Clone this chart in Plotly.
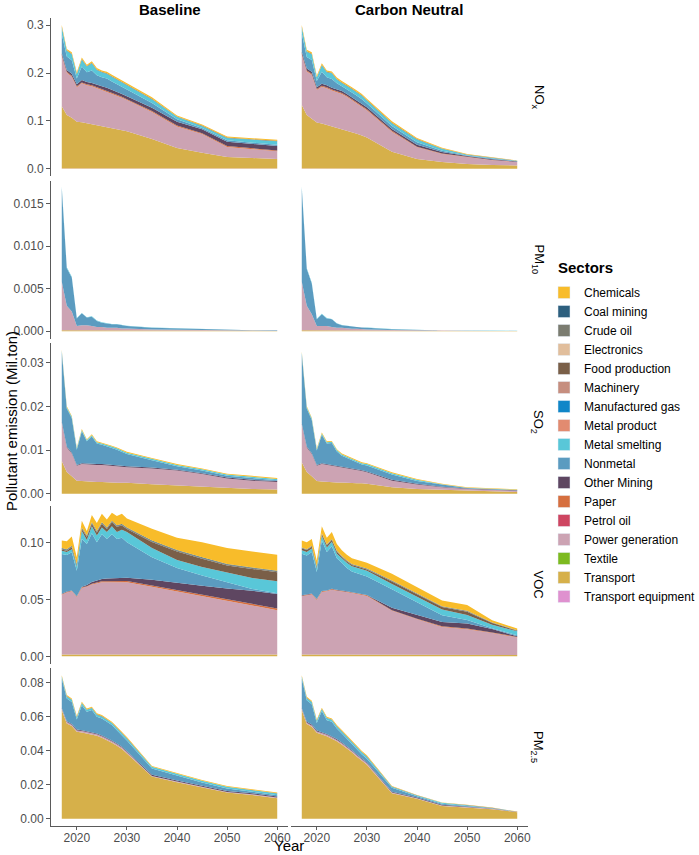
import plotly.graph_objects as go

# years drawn in every panel
YEARS = [2017, 2018, 2019, 2020, 2021, 2022, 2023, 2024, 2025, 2026, 2027, 2028, 2029, 2030,
         2035, 2040, 2045, 2050, 2055, 2060]

SECTORS = ["Chemicals", "Coal mining", "Crude oil", "Electronics", "Food production",
           "Machinery", "Manufactured gas", "Metal product", "Metal smelting", "Nonmetal",
           "Other Mining", "Paper", "Petrol oil", "Power generation", "Textile",
           "Transport", "Transport equipment"]

COLORS = ["#F8BC2A", "#2D5F7E", "#7B7C70", "#E1BE9C", "#7A5F48",
          "#C68E7F", "#1086C8", "#E28B70", "#59C7D8", "#5B9BC0",
          "#5E4661", "#D66F3F", "#CE4561", "#CCA3B3", "#7DBA20",
          "#D6B04A", "#DF91CF"]

POLLUTANTS = ["NO<sub>x</sub>", "PM<sub>10</sub>", "SO<sub>2</sub>", "VOC", "PM<sub>2.5</sub>"]
SCENARIOS = ["Baseline", "Carbon Neutral"]

# Mil.ton, one list per sector (sectors not listed are zero)
NOX_BASE = {
    "Transport equipment": [0.0005, 0.0005, 0.0005, 0.0005, 0.0005, 0.0005, 0.0005, 0.0005, 0.0005, 0.0005, 0.0005, 0.0005, 0.0005, 0.0005, 0.0005, 0.0005, 0.0005, 0.0005, 0.0005, 0.0005],
    "Transport": [0.130, 0.112, 0.106, 0.098, 0.097, 0.095, 0.093, 0.091, 0.089, 0.087, 0.085, 0.083, 0.080, 0.078, 0.062, 0.043, 0.033, 0.024, 0.022, 0.020],
    "Power generation": [0.105, 0.088, 0.086, 0.072, 0.081, 0.079, 0.079, 0.077, 0.076, 0.074, 0.072, 0.069, 0.068, 0.065, 0.056, 0.045, 0.039, 0.021, 0.018, 0.016],
    "Paper": [0.002, 0.002, 0.002, 0.002, 0.002, 0.002, 0.002, 0.002, 0.002, 0.002, 0.002, 0.002, 0.002, 0.002, 0.002, 0.002, 0.002, 0.002, 0.002, 0.002],
    "Other Mining": [0.004, 0.004, 0.004, 0.004, 0.005, 0.005, 0.005, 0.005, 0.005, 0.006, 0.006, 0.006, 0.006, 0.006, 0.007, 0.008, 0.008, 0.009, 0.009, 0.009],
    "Nonmetal": [0.040, 0.028, 0.028, 0.012, 0.028, 0.020, 0.026, 0.020, 0.019, 0.019, 0.017, 0.016, 0.015, 0.014, 0.010, 0.005, 0.003, 0.003, 0.003, 0.003],
    "Metal smelting": [0.014, 0.012, 0.013, 0.009, 0.015, 0.012, 0.015, 0.011, 0.010, 0.010, 0.010, 0.010, 0.009, 0.009, 0.008, 0.005, 0.004, 0.005, 0.006, 0.007],
    "Food production": [0.001, 0.001, 0.001, 0.001, 0.001, 0.001, 0.001, 0.001, 0.001, 0.001, 0.001, 0.001, 0.001, 0.001, 0.001, 0.001, 0.001, 0.001, 0.001, 0.001],
    "Chemicals": [0.004, 0.003, 0.003, 0.003, 0.003, 0.003, 0.003, 0.003, 0.003, 0.003, 0.003, 0.003, 0.003, 0.003, 0.003, 0.002, 0.002, 0.002, 0.002, 0.002],
}
NOX_CN = {
    "Transport equipment": [0.0005, 0.0005, 0.0005, 0.0005, 0.0005, 0.0005, 0.0005, 0.0005, 0.0005, 0.0005, 0.0005, 0.0005, 0.0005, 0.0005, 0.0004, 0.0003, 0.0002, 0.0002, 0.0001, 0.0001],
    "Transport": [0.133, 0.112, 0.104, 0.096, 0.094, 0.091, 0.088, 0.085, 0.083, 0.080, 0.076, 0.073, 0.069, 0.065, 0.035, 0.020, 0.014, 0.010, 0.008, 0.007],
    "Power generation": [0.105, 0.091, 0.092, 0.068, 0.077, 0.077, 0.075, 0.075, 0.073, 0.070, 0.067, 0.063, 0.060, 0.057, 0.042, 0.025, 0.017, 0.014, 0.010, 0.007],
    "Paper": [0.002, 0.002, 0.002, 0.002, 0.002, 0.002, 0.002, 0.002, 0.002, 0.002, 0.002, 0.002, 0.002, 0.002, 0.002, 0.001, 0.001, 0.0005, 0.0005, 0.0003],
    "Other Mining": [0.004, 0.004, 0.004, 0.004, 0.004, 0.004, 0.004, 0.004, 0.004, 0.004, 0.004, 0.004, 0.004, 0.004, 0.004, 0.004, 0.003, 0.002, 0.0015, 0.001],
    "Nonmetal": [0.038, 0.024, 0.025, 0.013, 0.025, 0.017, 0.018, 0.012, 0.010, 0.010, 0.010, 0.010, 0.010, 0.008, 0.006, 0.005, 0.0025, 0.001, 0.001, 0.0005],
    "Metal smelting": [0.013, 0.011, 0.012, 0.007, 0.014, 0.010, 0.012, 0.008, 0.007, 0.007, 0.007, 0.007, 0.007, 0.006, 0.006, 0.006, 0.004, 0.0015, 0.0012, 0.0008],
    "Food production": [0.001, 0.001, 0.001, 0.001, 0.001, 0.001, 0.001, 0.001, 0.001, 0.001, 0.001, 0.001, 0.001, 0.001, 0.001, 0.001, 0.0005, 0.0005, 0.0003, 0.0002],
    "Chemicals": [0.004, 0.003, 0.003, 0.003, 0.003, 0.003, 0.003, 0.003, 0.003, 0.003, 0.003, 0.003, 0.003, 0.003, 0.003, 0.002, 0.002, 0.001, 0.001, 0.0005],
}

PM10_BASE = {
    "Transport": [0.0001, 0.0001, 0.0001, 0.0001, 0.0001, 0.0001, 0.0001, 0.0001, 0.0001, 0.0001, 0.0001, 0.0001, 0.0001, 0.0001, 0.00008, 0.00006, 0.00005, 0.00004, 0.00003, 0.00003],
    "Power generation": [0.0057, 0.0029, 0.0022, 0.0005, 0.0006, 0.0006, 0.0005, 0.0004, 0.0004, 0.0003, 0.0003, 0.0003, 0.0002, 0.0002, 0.00012, 0.0001, 0.00006, 0.00005, 0.00004, 0.00003],
    "Nonmetal": [0.0110, 0.0044, 0.0040, 0.0009, 0.0014, 0.0009, 0.0011, 0.0007, 0.0005, 0.0005, 0.0004, 0.0004, 0.0004, 0.0003, 0.0002, 0.00015, 0.0001, 0.00007, 0.00004, 0.00004],
    "Metal smelting": [0.0002, 0.0001, 0.0001, 0.00005, 0.00005, 0.00005, 0.00005, 0.00004, 0.00004, 0.00004, 0.00003, 0.00003, 0.00003, 0.00003, 0.00002, 0.00002, 0.00002, 0.00001, 0.00001, 0.00001],
}
PM10_CN = {
    "Transport": [0.0001, 0.0001, 0.0001, 0.0001, 0.0001, 0.0001, 0.0001, 0.0001, 0.0001, 0.0001, 0.00008, 0.00008, 0.00007, 0.00006, 0.00004, 0.00003, 0.00002, 0.00002, 0.00001, 0.00001],
    "Power generation": [0.0057, 0.0029, 0.0019, 0.0005, 0.0005, 0.0005, 0.0004, 0.0003, 0.0003, 0.0002, 0.0002, 0.0002, 0.00015, 0.00015, 0.0001, 0.00005, 0.00003, 0.00002, 0.00002, 0.00001],
    "Nonmetal": [0.0110, 0.0043, 0.0036, 0.0008, 0.0014, 0.0009, 0.0009, 0.0005, 0.0003, 0.0003, 0.0003, 0.0002, 0.0002, 0.0002, 0.0001, 0.00005, 0.00003, 0.00002, 0.00001, 0.00001],
    "Metal smelting": [0.0002, 0.0001, 0.0001, 0.00005, 0.00005, 0.00005, 0.00004, 0.00004, 0.00003, 0.00003, 0.00003, 0.00002, 0.00002, 0.00002, 0.00001, 0.00001, 0.00001, 0.00001, 0.00001, 0.00001],
}

SO2_BASE = {
    "Transport": [0.0075, 0.0050, 0.0040, 0.0030, 0.0029, 0.0028, 0.0028, 0.0027, 0.0027, 0.0026, 0.0026, 0.0025, 0.0025, 0.0025, 0.0022, 0.0019, 0.0016, 0.0013, 0.0011, 0.0010],
    "Power generation": [0.0088, 0.0056, 0.0052, 0.0034, 0.0039, 0.0039, 0.0039, 0.0039, 0.0039, 0.0039, 0.0038, 0.0038, 0.0037, 0.0036, 0.0036, 0.0034, 0.0029, 0.0022, 0.0019, 0.0017],
    "Other Mining": [0.0002, 0.0002, 0.0002, 0.0002, 0.0002, 0.0002, 0.0002, 0.0002, 0.0002, 0.0002, 0.0002, 0.0002, 0.0002, 0.0002, 0.0002, 0.0002, 0.0002, 0.0002, 0.0002, 0.0002],
    "Nonmetal": [0.0160, 0.0087, 0.0079, 0.0035, 0.0073, 0.0051, 0.0062, 0.0047, 0.0044, 0.0042, 0.0039, 0.0036, 0.0032, 0.0028, 0.0017, 0.0008, 0.0006, 0.0004, 0.0004, 0.0002],
    "Metal smelting": [0.0003, 0.0003, 0.0003, 0.0003, 0.0003, 0.0003, 0.0003, 0.0003, 0.0003, 0.0003, 0.0003, 0.0003, 0.0003, 0.0003, 0.0003, 0.0003, 0.0003, 0.0003, 0.0003, 0.0003],
    "Chemicals": [0.0002, 0.0002, 0.0002, 0.0002, 0.0002, 0.0002, 0.0002, 0.0002, 0.0002, 0.0002, 0.0002, 0.0002, 0.0002, 0.0002, 0.0002, 0.0002, 0.0002, 0.0002, 0.0002, 0.0002],
}
SO2_CN = {
    "Transport": [0.0072, 0.0050, 0.0040, 0.0029, 0.0028, 0.0027, 0.0027, 0.0026, 0.0026, 0.0025, 0.0025, 0.0024, 0.0024, 0.0023, 0.0015, 0.0011, 0.0009, 0.0008, 0.0006, 0.0004],
    "Power generation": [0.0087, 0.0056, 0.0051, 0.0035, 0.0040, 0.0039, 0.0038, 0.0037, 0.0035, 0.0034, 0.0032, 0.0031, 0.0028, 0.0026, 0.0015, 0.0010, 0.0006, 0.0003, 0.0003, 0.0003],
    "Other Mining": [0.0002, 0.0002, 0.0002, 0.0002, 0.0002, 0.0002, 0.0002, 0.0002, 0.0002, 0.0002, 0.0002, 0.0002, 0.0002, 0.0002, 0.0002, 0.0002, 0.0001, 0.0001, 0.0001, 0.0001],
    "Nonmetal": [0.0160, 0.0087, 0.0076, 0.0033, 0.0065, 0.0047, 0.0049, 0.0032, 0.0024, 0.0021, 0.0018, 0.0015, 0.0013, 0.0014, 0.0012, 0.0006, 0.0005, 0.0001, 0.00005, 0.00002],
    "Metal smelting": [0.0003, 0.0003, 0.0003, 0.0003, 0.0003, 0.0003, 0.0003, 0.0003, 0.0003, 0.0003, 0.0003, 0.0003, 0.0003, 0.0003, 0.0003, 0.0003, 0.0001, 0.0001, 0.0001, 0.0001],
    "Chemicals": [0.0002, 0.0002, 0.0002, 0.0002, 0.0002, 0.0002, 0.0002, 0.0002, 0.0002, 0.0002, 0.0002, 0.0002, 0.0002, 0.0002, 0.0002, 0.0002, 0.0001, 0.0001, 0.0001, 0.0001],
}

VOC_BASE = {
    "Transport": [0.0016, 0.0016, 0.0016, 0.0016, 0.0016, 0.0016, 0.0016, 0.0016, 0.0016, 0.0016, 0.0016, 0.0016, 0.0016, 0.0016, 0.0016, 0.0016, 0.0016, 0.0016, 0.0016, 0.0016],
    "Power generation": [0.0524, 0.0544, 0.0554, 0.0504, 0.0584, 0.0594, 0.0614, 0.0624, 0.0634, 0.0634, 0.0634, 0.0634, 0.0634, 0.0634, 0.0594, 0.0554, 0.0514, 0.0474, 0.0434, 0.0389],
    "Paper": [0.0005, 0.0005, 0.0005, 0.0005, 0.0005, 0.0005, 0.0006, 0.0007, 0.0008, 0.0008, 0.0009, 0.0009, 0.0010, 0.0010, 0.0011, 0.0012, 0.0013, 0.0014, 0.0015, 0.0015],
    "Other Mining": [0.0003, 0.0003, 0.0003, 0.0003, 0.0005, 0.0010, 0.0015, 0.0020, 0.0020, 0.0025, 0.0025, 0.0030, 0.0030, 0.0030, 0.0050, 0.0060, 0.0075, 0.0090, 0.0110, 0.0127],
    "Nonmetal": [0.0350, 0.0321, 0.0334, 0.0223, 0.0420, 0.0360, 0.0429, 0.0333, 0.0392, 0.0347, 0.0386, 0.0341, 0.0350, 0.0310, 0.0197, 0.0133, 0.0090, 0.0056, 0.0016, 0.0006],
    "Metal smelting": [0.0029, 0.0026, 0.0028, 0.0036, 0.0070, 0.0035, 0.0060, 0.0060, 0.0060, 0.0060, 0.0070, 0.0060, 0.0070, 0.0090, 0.0082, 0.0070, 0.0075, 0.0085, 0.0095, 0.0105],
    "Food production": [0.0010, 0.0012, 0.0017, 0.0010, 0.0017, 0.0027, 0.0022, 0.0027, 0.0032, 0.0027, 0.0037, 0.0047, 0.0037, 0.0027, 0.0052, 0.0075, 0.0072, 0.0062, 0.0081, 0.0080],
    "Crude oil": [0.0008, 0.0008, 0.0008, 0.0008, 0.0008, 0.0008, 0.0008, 0.0008, 0.0008, 0.0008, 0.0008, 0.0008, 0.0008, 0.0008, 0.0008, 0.0008, 0.0008, 0.0008, 0.0008, 0.0008],
    "Coal mining": [0.0005, 0.0005, 0.0005, 0.0005, 0.0005, 0.0005, 0.0005, 0.0005, 0.0005, 0.0005, 0.0005, 0.0005, 0.0005, 0.0005, 0.0005, 0.0005, 0.0005, 0.0005, 0.0005, 0.0005],
    "Chemicals": [0.0065, 0.0070, 0.0080, 0.0060, 0.0060, 0.0040, 0.0065, 0.0070, 0.0075, 0.0070, 0.0070, 0.0080, 0.0090, 0.0080, 0.0105, 0.0107, 0.0132, 0.0140, 0.0140, 0.0139],
}
VOC_CN = {
    "Transport": [0.0016, 0.0016, 0.0016, 0.0016, 0.0016, 0.0016, 0.0016, 0.0016, 0.0016, 0.0016, 0.0016, 0.0016, 0.0016, 0.0016, 0.0016, 0.0016, 0.0016, 0.0015, 0.0014, 0.0012],
    "Power generation": [0.0511, 0.0519, 0.0526, 0.0479, 0.0549, 0.0554, 0.0569, 0.0559, 0.0555, 0.0546, 0.0539, 0.0532, 0.0524, 0.0514, 0.0383, 0.0309, 0.0242, 0.0223, 0.0191, 0.0153],
    "Paper": [0.0005, 0.0005, 0.0005, 0.0005, 0.0005, 0.0005, 0.0005, 0.0005, 0.0005, 0.0005, 0.0005, 0.0005, 0.0005, 0.0005, 0.0005, 0.0005, 0.0005, 0.0005, 0.0005, 0.0005],
    "Other Mining": [0.0003, 0.0003, 0.0003, 0.0003, 0.0003, 0.0003, 0.0003, 0.0003, 0.0003, 0.0003, 0.0003, 0.0003, 0.0003, 0.0003, 0.0023, 0.0033, 0.0037, 0.0044, 0.0030, 0.0005],
    "Nonmetal": [0.0365, 0.0342, 0.0365, 0.0237, 0.0442, 0.0337, 0.0372, 0.0277, 0.0241, 0.0205, 0.0182, 0.0174, 0.0162, 0.0162, 0.0161, 0.0113, 0.0060, 0.0032, 0.0006, 0.0009],
    "Metal smelting": [0.0030, 0.0030, 0.0030, 0.0030, 0.0040, 0.0040, 0.0040, 0.0040, 0.0040, 0.0045, 0.0045, 0.0045, 0.0050, 0.0050, 0.0047, 0.0044, 0.0050, 0.0044, 0.0030, 0.0035],
    "Food production": [0.0017, 0.0017, 0.0017, 0.0012, 0.0017, 0.0017, 0.0017, 0.0017, 0.0012, 0.0012, 0.0012, 0.0012, 0.0012, 0.0012, 0.0022, 0.0022, 0.0022, 0.0029, 0.0016, 0.0005],
    "Crude oil": [0.0005, 0.0005, 0.0005, 0.0005, 0.0005, 0.0005, 0.0005, 0.0005, 0.0005, 0.0005, 0.0005, 0.0005, 0.0005, 0.0005, 0.0005, 0.0005, 0.0005, 0.0005, 0.0002, 0.0002],
    "Coal mining": [0.0003, 0.0003, 0.0003, 0.0003, 0.0003, 0.0003, 0.0003, 0.0003, 0.0003, 0.0003, 0.0003, 0.0003, 0.0003, 0.0003, 0.0003, 0.0003, 0.0003, 0.0003, 0.0002, 0.0002],
    "Chemicals": [0.0060, 0.0060, 0.0060, 0.0050, 0.0060, 0.0060, 0.0060, 0.0060, 0.0050, 0.0050, 0.0050, 0.0050, 0.0050, 0.0050, 0.0060, 0.0060, 0.0050, 0.0050, 0.0020, 0.0015],
}

PM25_BASE = {
    "Transport": [0.0638, 0.0560, 0.0544, 0.0511, 0.0507, 0.0500, 0.0496, 0.0488, 0.0476, 0.0462, 0.0447, 0.0429, 0.0410, 0.0384, 0.0248, 0.0215, 0.0185, 0.0154, 0.0140, 0.0121],
    "Power generation": [0.0008, 0.0008, 0.0008, 0.0008, 0.0008, 0.0008, 0.0008, 0.0008, 0.0008, 0.0008, 0.0008, 0.0008, 0.0008, 0.0008, 0.0004, 0.0004, 0.0004, 0.0004, 0.0004, 0.0004],
    "Other Mining": [0.0005, 0.0005, 0.0005, 0.0005, 0.0005, 0.0005, 0.0005, 0.0005, 0.0005, 0.0005, 0.0005, 0.0005, 0.0005, 0.0005, 0.0006, 0.0006, 0.0006, 0.0006, 0.0006, 0.0006],
    "Nonmetal": [0.0172, 0.0133, 0.0129, 0.0059, 0.0147, 0.0115, 0.0129, 0.0098, 0.0100, 0.0095, 0.0090, 0.0078, 0.0067, 0.0063, 0.0037, 0.0027, 0.0018, 0.0014, 0.0009, 0.0008],
    "Metal smelting": [0.0012, 0.0012, 0.0012, 0.0012, 0.0012, 0.0012, 0.0012, 0.0012, 0.0012, 0.0012, 0.0012, 0.0012, 0.0012, 0.0012, 0.0010, 0.0010, 0.0010, 0.0010, 0.0010, 0.0010],
    "Food production": [0.0002, 0.0002, 0.0002, 0.0002, 0.0002, 0.0002, 0.0002, 0.0002, 0.0002, 0.0002, 0.0002, 0.0002, 0.0002, 0.0002, 0.0001, 0.0001, 0.0001, 0.0001, 0.0001, 0.0001],
    "Chemicals": [0.0006, 0.0006, 0.0006, 0.0006, 0.0006, 0.0006, 0.0006, 0.0006, 0.0006, 0.0006, 0.0006, 0.0006, 0.0006, 0.0006, 0.0004, 0.0004, 0.0004, 0.0004, 0.0004, 0.0004],
}
PM25_CN = {
    "Transport": [0.0638, 0.0556, 0.0540, 0.0505, 0.0495, 0.0485, 0.0470, 0.0455, 0.0435, 0.0415, 0.0390, 0.0365, 0.0340, 0.0318, 0.0150, 0.0118, 0.0076, 0.0066, 0.0057, 0.0039],
    "Power generation": [0.0008, 0.0008, 0.0008, 0.0008, 0.0008, 0.0008, 0.0008, 0.0008, 0.0008, 0.0008, 0.0008, 0.0008, 0.0008, 0.0008, 0.0004, 0.0003, 0.0003, 0.0002, 0.0002, 0.0001],
    "Other Mining": [0.0005, 0.0005, 0.0005, 0.0005, 0.0005, 0.0005, 0.0005, 0.0005, 0.0005, 0.0005, 0.0005, 0.0005, 0.0005, 0.0005, 0.0005, 0.0004, 0.0003, 0.0003, 0.0002, 0.0001],
    "Nonmetal": [0.0172, 0.0127, 0.0120, 0.0045, 0.0124, 0.0081, 0.0086, 0.0062, 0.0053, 0.0042, 0.0035, 0.0030, 0.0025, 0.0022, 0.0024, 0.0007, 0.0007, 0.0005, 0.0001, 0.0000],
    "Metal smelting": [0.0012, 0.0012, 0.0012, 0.0012, 0.0012, 0.0012, 0.0012, 0.0012, 0.0012, 0.0012, 0.0012, 0.0012, 0.0012, 0.0012, 0.0006, 0.0005, 0.0005, 0.0004, 0.0002, 0.0001],
    "Food production": [0.0002, 0.0002, 0.0002, 0.0002, 0.0002, 0.0002, 0.0002, 0.0002, 0.0002, 0.0002, 0.0002, 0.0002, 0.0002, 0.0002, 0.0001, 0.0001, 0.0001, 0.0001, 0.0001, 0.0000],
    "Chemicals": [0.0006, 0.0006, 0.0006, 0.0006, 0.0006, 0.0006, 0.0006, 0.0006, 0.0006, 0.0006, 0.0006, 0.0006, 0.0006, 0.0006, 0.0003, 0.0002, 0.0001, 0.0001, 0.0001, 0.0001],
}

PANELS = [[NOX_BASE, NOX_CN], [PM10_BASE, PM10_CN], [SO2_BASE, SO2_CN],
          [VOC_BASE, VOC_CN], [PM25_BASE, PM25_CN]]

Y_RANGES = [[-0.015, 0.315], [-0.00086, 0.0177], [-0.00165, 0.0345],
            [-0.0063, 0.1323], [-0.0042, 0.0885]]
Y_TICKS = [[0.0, 0.1, 0.2, 0.3], [0.0, 0.005, 0.010, 0.015], [0.0, 0.01, 0.02, 0.03],
           [0.0, 0.05, 0.10], [0.0, 0.02, 0.04, 0.06, 0.08]]
Y_FORMATS = [".1f", ".3f", ".2f", ".2f", ".2f"]

W, H = 699, 855
FONT = "Liberation Sans, Arial, sans-serif"
AXIS_GREY = "#5a5a5a"

# panel placement in pixels
COL_X = [(51, 288), (291, 528)]
ROW_Y = [(18, 176), (180.5, 338.5), (343, 501), (505.5, 663.5), (668, 826)]

fig = go.Figure()
layout = {}

for r in range(5):
    for c in range(2):
        k = r * 2 + c + 1
        xa = "x" if k == 1 else f"x{k}"
        ya = "y" if k == 1 else f"y{k}"
        data = PANELS[r][c]
        # first trace ends up at the bottom of the stack
        for name, color in reversed(list(zip(SECTORS, COLORS))):
            vals = data.get(name, [0.0] * len(YEARS))
            fig.add_trace(go.Scatter(
                x=YEARS, y=vals, xaxis=xa, yaxis=ya,
                mode="lines", line=dict(width=0, color=color),
                fillcolor=color, stackgroup=f"s{k}",
                name=name, legendgroup=name, showlegend=False,
            ))

        x0, x1 = COL_X[c]
        y0, y1 = ROW_Y[r]
        bottom = r == 4
        left = c == 0
        layout["xaxis" if k == 1 else f"xaxis{k}"] = dict(
            domain=[x0 / W, x1 / W], anchor=ya, type="linear", automargin=False,
            range=[2014.85, 2062.15], showgrid=False, zeroline=False,
            showline=bottom, linecolor=AXIS_GREY, linewidth=1,
            ticks="outside" if bottom else "", ticklen=3, tickcolor=AXIS_GREY,
            tickvals=[2020, 2030, 2040, 2050, 2060], showticklabels=bottom,
            ticklabelstandoff=-2,
            tickfont=dict(size=12, color="#4d4d4d", family=FONT),
        )
        layout["yaxis" if k == 1 else f"yaxis{k}"] = dict(
            domain=[1 - y1 / H, 1 - y0 / H], anchor=xa, automargin=False,
            range=Y_RANGES[r], showgrid=False, zeroline=False,
            showline=left, linecolor=AXIS_GREY, linewidth=1,
            ticks="outside" if left else "", ticklen=4, tickcolor=AXIS_GREY,
            tickvals=Y_TICKS[r], tickformat=Y_FORMATS[r], showticklabels=left,
            tickfont=dict(size=12, color="#4d4d4d", family=FONT),
        )

# legend carriers: square swatches like the ggplot key
for name, color in zip(SECTORS, COLORS):
    fig.add_trace(go.Bar(x=[None], y=[None], name=name, marker_color=color,
                         legendgroup=name, showlegend=True))


def label(text, x, y, size, angle=0, xanchor="center", yanchor="middle"):
    return dict(text=text, x=x / W, y=1 - y / H, xref="paper", yref="paper",
                xanchor=xanchor, yanchor=yanchor, showarrow=False, textangle=angle,
                font=dict(size=size, color="black", family=FONT))


annotations = []
for c, title in enumerate(SCENARIOS):
    x0, x1 = COL_X[c]
    annotations.append(label(f"<b>{title}</b>", (x0 + x1) / 2, 9, 15))
for r, pol in enumerate(POLLUTANTS):
    y0, y1 = ROW_Y[r]
    annotations.append(label(pol, 538, (y0 + y1) / 2, 13, 90))
annotations.append(label("Pollutant emission (Mil.ton)", 11, 421, 15, -90))
annotations.append(label("Year", 289, 856, 15, yanchor="bottom"))
annotations.append(label("<b>Sectors</b>", 556, 268, 15, xanchor="left"))

fig.update_layout(
    **layout,
    width=W, height=H,
    margin=dict(l=0, r=0, t=0, b=0, autoexpand=False),
    paper_bgcolor="white", plot_bgcolor="white",
    font=dict(family=FONT),
    annotations=annotations,
    legend=dict(
        x=544 / W, y=1 - 278 / H, xanchor="left", yanchor="top",
        font=dict(size=12, color="black", family=FONT),
        tracegroupgap=0, bgcolor="rgba(0,0,0,0)",
    ),
)

# the page body has a default 8px margin; remove it so the figure sits at 0,0
fig.write_html("out.html", config={"displayModeBar": False},
               post_script="document.body.style.margin='0';")
